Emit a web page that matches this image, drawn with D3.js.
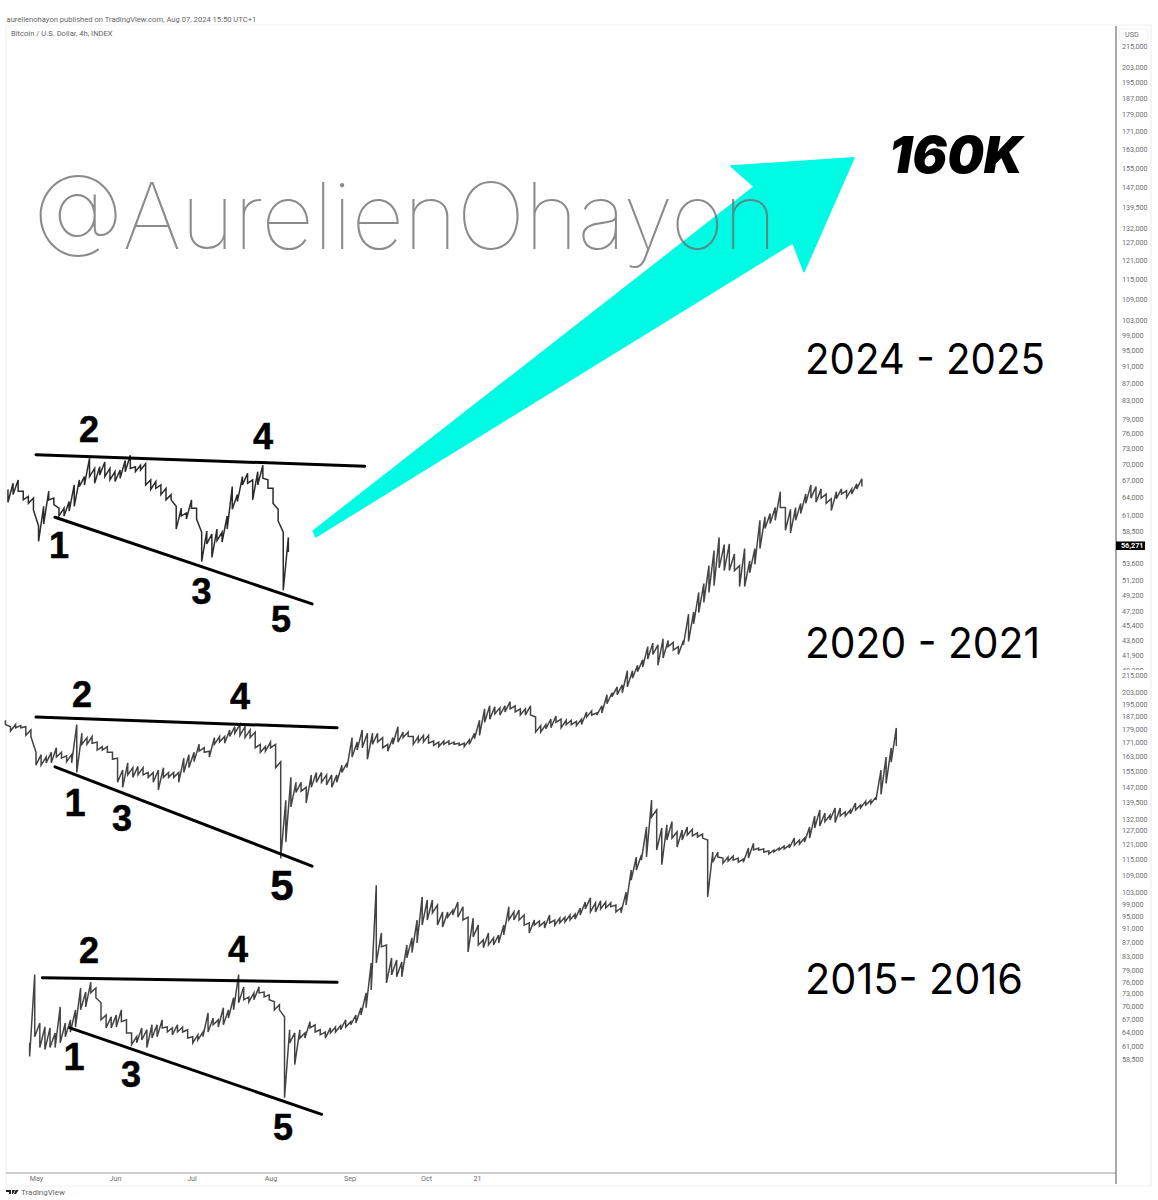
<!DOCTYPE html>
<html>
<head>
<title>BTC fractal</title>
<meta charset="UTF-8">
<style type="text/css">
body { margin: 0; background: #fff; }
svg { display: block; }
.axis text { font-family: "Roboto", sans-serif; font-size: 7.2px; fill: #6f6f6f; }
.axis path, .axis line { display: none; }
.btc { fill: none; stroke-linejoin: miter; }
.wedge { stroke: #000; fill: none; stroke-linecap: round; }
.num { font-family: "Liberation Sans", sans-serif; font-weight: 700; fill: #000; text-anchor: middle; stroke: #000; stroke-width: 0.5px; }
.period { font-family: "Inter", sans-serif; font-size: 42px; fill: #000; }
</style>
<script src="https://d3js.org/d3.v7.min.js"></script>
</head>
<body>
<script type="text/javascript">
// tick labels of the two price scales
var priceTicksTop = [215000,203000,195000,187000,179000,171000,163000,155000,147000,139500,132000,127000,121000,115000,109000,103000,99000,95000,91000,87000,83000,79000,76000,73000,70000,67000,64000,61000,58500,53600,51200,49200,47200,45400,43600,41900,40300];
var priceTicksLow = [215000,203000,195000,187000,179000,171000,163000,155000,147000,139500,132000,127000,121000,115000,109000,103000,99000,95000,91000,87000,83000,79000,76000,73000,70000,67000,64000,61000,58500];
var monthTicks = ["2024-05-01","2024-06-01","2024-07-01","2024-08-01","2024-09-01","2024-10-01","2024-10-21"];
var monthLabels = ["May","Jun","Jul","Aug","Sep","Oct","21"];
var lastPrice = 56271;

// 2024 - 2025, one high/low pair every 2 days from the start date
var start2024 = "2024-04-20";
var high2024 = [65400,66500,67100,65100,64200,63900,59300,62500,65100,63900,62200,62200,63300,66200,67100,67700,71100,69200,69500,70400,69200,68600,68900,70700,71700,69500,69800,70100,67100,66800,66200,65600,64500,62500,62200,61400,63600,62200,58300,58500,58000,58800,58300,60900,65900,64500,67700,68300,67100,68600,69800,67100,65600,62000,58300,57500];
var low2024 = [63200,64500,65100,63600,63000,61900,56900,59600,63600,62800,60900,60900,61700,62500,65900,66200,67700,66500,68000,67700,67100,66800,67400,68600,69200,68600,68900,66200,65400,65600,64500,63600,63600,58800,60900,60400,62200,60400,53900,56500,54500,57000,56800,58800,62000,63300,66200,66500,63600,66200,67400,65600,63000,60100,49900,55300];

// 2020 - 2021
var start2020 = "2024-04-19";
var high2020 = [35200,34600,34800,34700,34600,34300,32300,32100,31900,32300,32700,32300,32000,32100,34800,34000,33600,33700,33200,32800,32800,32300,31800,30800,31400,31000,31100,31000,30600,30600,30800,31000,30600,30600,30600,31800,32100,32300,33000,32700,32400,33600,33700,33700,34300,34600,34800,34600,34300,34100,33000,32800,33200,33000,31500,28400,30200,29800,29800,29400,30400,30600,30600,30400,30400,30400,31200,31400,33600,33200,34300,34000,34000,34000,33600,33000,33600,34600,34100,34100,33700,33700,33800,33800,33300,33200,33300,33300,33200,33100,33100,33400,34000,35200,36300,36600,36500,36400,36600,37000,36600,36300,36300,36600,35500,34700,34800,35300,35600,35300,35200,35200,35100,35300,36000,36100,35900,36600,37700,37900,38500,38700,40200,40200,40800,41400,42900,43300,43100,43800,43600,43400,42900,43600,46800,47100,49600,50800,53300,55500,57500,56400,56500,55000,53300,55800,54000,55800,60200,60800,61300,62300,65000,62300,62000,62300,63000,64600,66200,65900,65500,64600,63800,65000,65500,65200,65500,66400,67300];
var low2020 = [34800,34200,34500,34500,33800,33700,31200,31200,31400,31400,31900,31800,31500,31400,30600,33000,33000,33100,32500,32500,32300,31700,29800,29400,30400,30200,30400,30400,30200,29800,29200,30200,30200,30200,29800,30600,31000,31500,32400,32300,31900,33000,33200,33100,33700,34000,33800,33600,33600,32700,32300,32400,32700,31000,24300,25400,27900,29000,29100,28200,29400,29800,29800,29600,29400,29800,30600,31000,31900,32500,32700,31700,33000,33200,32700,32400,33000,33200,33600,33700,33000,33200,33200,33100,32900,32800,33000,33000,33000,32900,32800,33000,33500,33800,35000,35300,35800,35700,36000,36300,36000,35700,35700,35700,34100,34100,34400,34500,35000,34500,34800,34800,34700,34800,35500,35700,35700,35900,36800,37500,37700,37900,38500,39400,40100,40600,41500,42000,40800,41600,42900,42500,42000,43100,43500,45600,47000,48300,49600,50500,53000,52600,52600,52600,50400,50400,52300,53500,55800,58900,59700,60200,62300,58600,58200,60200,61300,63000,63900,63200,63900,63000,61800,63800,64600,64000,64600,65500,65900];

// 2015 - 2016
var start2015 = "2024-04-28T12:00";
var high2015 = [61800,77900,66100,65200,65000,63900,69800,66100,66800,69100,74400,73400,75900,74400,70800,67900,67500,67900,69100,66800,63900,63100,65000,64600,65700,65700,66800,65200,65000,65700,65200,64600,63100,63500,64100,68400,67200,66800,69600,69100,72000,77900,74700,72200,73200,74700,73400,72700,71000,70300,67500,64600,63900,64600,63900,66400,65700,64600,64100,65000,65200,65500,66800,66400,67900,69600,73200,81000,105400,89700,86100,82400,81800,81300,86100,88200,93700,101300,100300,100300,98600,96300,96300,96900,99600,98000,94600,94300,92100,87600,89700,88200,89100,92100,98000,96300,96900,95300,92800,93700,93400,93100,95300,93700,94300,94600,95300,95600,97600,99600,101000,99300,100000,99600,99300,98600,97600,103000,111000,116000,116800,128400,140700,136100,128000,129400,130800,126300,127100,128400,127500,125900,125400,122900,118000,118000,115600,116000,116400,115600,115200,119600,121600,119600,119200,118400,118800,119600,120400,120800,123700,122900,123700,128400,133300,136100,134700,133800,137000,137000,135200,136100,139300,138400,140200,140700,142100,155800,162800,167900,179700];
var low2015 = [59000,63100,60800,60400,60800,60800,61800,63100,64100,65200,69100,69800,73200,72000,66800,65000,65000,65200,66400,63900,61400,61800,62400,60800,62800,63100,65000,64100,63500,64100,64100,62800,61800,62400,63100,64100,65700,65200,65700,67200,69100,70800,71500,71000,71500,73200,72200,71500,69100,69100,51300,61800,57400,62800,62800,65000,64100,63500,62800,63900,64100,64600,65200,65700,66100,67900,69600,73900,81000,85600,75700,77800,77300,77300,82400,83900,86700,92100,93700,96000,92100,91500,94600,95300,94600,93700,84100,88500,86100,85300,86100,86100,86700,89100,93700,93700,93700,92100,89700,92100,91800,91200,92800,92100,92800,93100,93700,94000,95300,97300,96300,96300,97300,97600,98000,96300,96000,98600,107300,111000,114800,116000,132900,118800,113000,122900,123700,120000,122900,125000,124600,124200,123700,101300,114000,116000,113600,114400,114800,114000,114000,115600,118800,118800,118000,117200,118000,118800,119200,119600,120800,121200,122100,123700,128000,128900,130800,131500,130400,133300,133300,134300,136100,137000,138400,139000,140700,143500,148900,160000,169000];

// wedge lines, [start date, end date] and [start price, end price]
var wedgeTop2024 = { days: ["2024-05-01","2024-09-07"], prices: [71800,69600] };
var wedgeLow2024 = { days: ["2024-05-08T11:00","2024-08-17T07:00"], prices: [60700,48100] };
var wedgeTop2020 = { days: ["2024-05-01","2024-08-27T03:00"], prices: [35500,34500] };
var wedgeLow2020 = { days: ["2024-05-08T11:00","2024-08-17T07:00"], prices: [31070,23800] };
var wedgeTop2015 = { days: ["2024-05-03T12:00","2024-08-27T03:00"], prices: [77050,75850] };
var wedgeLow2015 = { days: ["2024-05-14T07:00","2024-08-21T02:00"], prices: [65000,48500] };

// projection arrow, read against the upper price scale
var arrowDays = ["2024-08-17T17:00","2024-08-18T19:00","2025-02-21T22:00","2025-02-26T07:00","2025-03-17T22:00","2025-01-28T12:00","2025-02-06T19:00"];
var arrowPrices = [58500,57600,126800,117300,159300,155800,147400];

var width = 1158, height = 1200, stepDays = 2;
var axisX = 1116;

var x = d3.scaleUtc()
    .domain([new Date("2024-05-01T00:00Z"), new Date("2024-10-01T00:00Z")])
    .range([36, 426]);
var yTop = d3.scaleLog().domain([215000, 58500]).range([46, 531]);
var yLow = d3.scaleLog().domain([215000, 58500]).range([675, 1059]);

function utc(s) {
    return new Date(s.length > 10 ? s + "Z" : s + "T00:00Z");
}

var svg = d3.select("body").append("svg")
    .attr("width", width)
    .attr("height", height);

// frame
function frame(x1, y1, x2, y2, color, w) {
    svg.append("line").attr("x1", x1).attr("y1", y1).attr("x2", x2).attr("y2", y2)
        .attr("stroke", color).attr("stroke-width", w);
}
frame(6, 25, 1151, 25, "#f0f0f0", 1);
frame(6, 25, 6, 1186, "#ececec", 1);
frame(1151, 25, 1151, 1186, "#ececec", 1);
frame(6, 1186, 1151, 1186, "#f0f0f0", 1);
frame(6, 1173, axisX, 1173, "#a0a0a0", 1);
frame(axisX, 26, axisX, 1184, "#555", 1);

svg.append("text").attr("x", 6.5).attr("y", 22)
    .style("font-family", "Roboto").style("font-size", "7.6px").style("fill", "#666")
    .text("aurelienohayon published on TradingView.com, Aug 07, 2024 15:50 UTC+1");
svg.append("text").attr("x", 11).attr("y", 36)
    .style("font-family", "Roboto").style("font-size", "7.6px").style("fill", "#666")
    .text("Bitcoin / U.S. Dollar, 4h, INDEX");

// arrow goes first, the watermark shows through it
var arrowLine = d3.line()
    .x(function(d) { return x(utc(d[0])); })
    .y(function(d) { return yTop(d[1]); });
svg.append("path")
    .attr("d", arrowLine(d3.zip(arrowDays, arrowPrices)) + "Z")
    .attr("fill", "#00fbe4")
    .attr("stroke", "#00fbe4")
    .attr("stroke-width", 1.5)
    .attr("stroke-linejoin", "round");

svg.append("text")
    .attr("x", 33).attr("y", 249)
    .attr("textLength", 744).attr("lengthAdjust", "spacing")
    .style("font-family", "Inter").style("font-weight", 100).style("font-size", "92px")
    .style("fill", "#6e6e6e").style("fill-opacity", 0.8)
    .text("@AurelienOhayon");

// price series: sawtooth, up to each sample's high then down to its low
function drawSeries(startDate, highs, lows, yScale, color) {
    var t0 = utc(startDate).getTime(), dayMs = 86400000, pts = [];
    highs.forEach(function(h, i) {
        var t = new Date(t0 + i * stepDays * dayMs);
        pts.push([t, h]);
        pts.push([t, lows[i]]);
    });
    var line = d3.line()
        .x(function(d) { return x(d[0]); })
        .y(function(d) { return yScale(d[1]); });
    svg.append("path").attr("class", "btc")
        .attr("d", line(pts))
        .attr("stroke", color)
        .attr("stroke-width", 1.5);
}
drawSeries(start2024, high2024, low2024, yTop, "#2b2b2b");
drawSeries(start2020, high2020, low2020, yTop, "#444");
drawSeries(start2015, high2015, low2015, yLow, "#444");

// wedges
function drawWedge(w, yScale, sw) {
    svg.append("line").attr("class", "wedge")
        .attr("x1", x(utc(w.days[0]))).attr("y1", yScale(w.prices[0]))
        .attr("x2", x(utc(w.days[1]))).attr("y2", yScale(w.prices[1]))
        .attr("stroke-width", sw);
}
drawWedge(wedgeTop2024, yTop, 3);
drawWedge(wedgeLow2024, yTop, 3);
drawWedge(wedgeTop2020, yTop, 3);
drawWedge(wedgeLow2020, yTop, 3);
drawWedge(wedgeTop2015, yLow, 3);
drawWedge(wedgeLow2015, yLow, 3);

// wave numbers
[["2",89,442,36],["4",263,449,36],["1",59,558,36],["3",201.5,604,36],["5",281,632,36],
 ["2",82,707,36],["4",240,709,36],["1",75,816,38],["3",122,831,36],["5",282,900,42],
 ["2",89,963,36],["4",238,962,36],["1",74,1070,38],["3",131,1087,36],["5",283,1140,36]
].forEach(function(n) {
    svg.append("text").attr("class", "num")
        .attr("x", n[1]).attr("y", n[2]).style("font-size", n[3] + "px").text(n[0]);
});

// period labels
[["2024 - 2025",374,240],["2020 - 2021",658,235],["2015- 2016",994,218]].forEach(function(p) {
    svg.append("text").attr("class", "period")
        .attr("x", 805).attr("y", p[1])
        .attr("textLength", p[2]).attr("lengthAdjust", "spacingAndGlyphs")
        .text(p[0]);
});

svg.append("text")
    .attr("x", 889).attr("y", 173)
    .attr("textLength", 134).attr("lengthAdjust", "spacingAndGlyphs")
    .style("font-family", "Inter").style("font-weight", 900).style("font-style", "italic")
    .style("font-size", "51px")
    .text("160K");

// price axes, the upper one ends where the lower pane starts
svg.append("clipPath").attr("id", "upperPane")
    .append("rect").attr("x", axisX).attr("y", 26).attr("width", 40).attr("height", 644);

var fmt = d3.format(",");
svg.append("g").attr("class", "axis")
    .attr("clip-path", "url(#upperPane)")
    .append("g")
    .attr("transform", "translate(" + (axisX + 3) + ",0)")
    .call(d3.axisRight(yTop).tickValues(priceTicksTop).tickFormat(fmt).tickSize(0));
svg.append("g").attr("class", "axis")
    .attr("transform", "translate(" + (axisX + 3) + ",0)")
    .call(d3.axisRight(yLow).tickValues(priceTicksLow).tickFormat(fmt).tickSize(0));

// time axis
svg.append("g").attr("class", "axis")
    .attr("transform", "translate(0,1173)")
    .call(d3.axisBottom(x)
        .tickValues(monthTicks.map(utc))
        .tickFormat(function(d, i) { return monthLabels[i]; })
        .tickSize(0).tickPadding(3));

// USD box and last price tag
svg.append("rect").attr("x", 1119).attr("y", 29).attr("width", 29).attr("height", 12).attr("rx", 2)
    .attr("fill", "#fff").attr("stroke", "#f2f2f2");
svg.append("text").attr("x", 1125).attr("y", 37)
    .style("font-family", "Roboto").style("font-size", "7.2px").style("fill", "#6f6f6f")
    .text("USD");
svg.append("rect").attr("x", axisX).attr("y", yTop(lastPrice) - 4).attr("width", 29).attr("height", 8.5)
    .attr("fill", "#000");
svg.append("text").attr("x", axisX + 5).attr("y", yTop(lastPrice) + 2.6)
    .style("font-family", "Roboto").style("font-size", "7.2px").style("font-weight", 700).style("fill", "#fff")
    .text(fmt(lastPrice));

// TradingView mark
svg.append("path").attr("d", "M6 1190h5v4h-2v-2H6z M12 1190h3l-2 4h-1z M15.5 1190h3l-2.5 4h-2z").attr("fill", "#222");
svg.append("text").attr("x", 21).attr("y", 1195)
    .style("font-family", "Roboto").style("font-size", "8px").style("fill", "#666")
    .text("TradingView");
</script>
</body>
</html>
